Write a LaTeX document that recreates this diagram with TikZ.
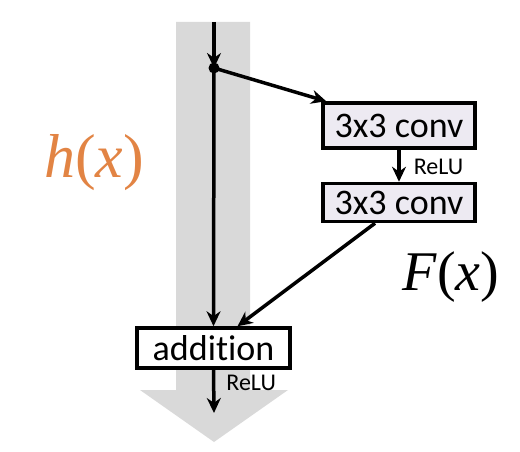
\documentclass[tikz,border=0pt]{standalone}
\usepackage{fontspec}
\setsansfont{Carlito}[Ligatures=NoCommon]
\newfontfamily\fxfont{Liberation Serif}
\newcommand{\fx}[1]{{\fxfont\itshape #1}{\fxfont(}{\fxfont\itshape x}{\fxfont)}}
\usetikzlibrary{arrows.meta,positioning,calc}
\definecolor{hcol}{RGB}{226,132,68}
\definecolor{convfill}{RGB}{237,234,242}
\tikzset{
  blk/.style={draw, line width=3.5pt, align=center, inner sep=2pt,
              font=\sffamily\fontsize{36}{38}\selectfont, minimum width=152pt},
  sig/.style={-{Stealth[length=15pt,width=14pt]}, line width=3.5pt},
  lbl/.style={font=\sffamily\fontsize{24}{26}\selectfont, inner sep=1pt},
  band/.style={fill=black!15},
}
\begin{document}
\begin{tikzpicture}[x=1pt,y=-1pt,node distance=32pt]
    \useasboundingbox (0,0) rectangle (520,452);
    % identity path
    \fill[band] (176,22) -- (250,22) -- (250,390) -- (288,390) -- (214,442)
      -- (140,390) -- (176,390) -- cycle;
    \node[blk,fill=convfill,minimum height=45pt] (c1) at (399,125.5) {3x3 conv};
    \node[blk,fill=convfill,minimum height=38pt,below=of c1] (c2) {3x3 conv};
    \node[blk,fill=white,minimum height=40pt,minimum width=153pt] (add)
      at (213.5,348) {addition};
    \coordinate (in) at (214,22);
    \coordinate (out) at (214,413);
    \fill (214,68) circle (5.5pt) coordinate (split);
    \draw[sig] (in) -- (split);
    \draw[sig] (split) -- (add.north);
    \draw[sig] (split) -- ([xshift=5pt]c1.north west);
    \draw[sig] (c1) -- node[lbl,right=12pt,pos=0.55] {ReLU} (c2);
    \draw[sig] ([xshift=-24pt]c2.south) -- ([xshift=24pt]add.north);
    \draw[sig] (add.south) -- node[lbl,right=10pt,pos=0.3] {ReLU} (out);
    \node[text=hcol,font=\fontsize{62}{66}\selectfont] (h) at (94,163) {\fx{h}};
    \node[font=\fontsize{56}{60}\selectfont] (f) at (451,277) {\fx{F}};
  \end{tikzpicture}
\end{document}
